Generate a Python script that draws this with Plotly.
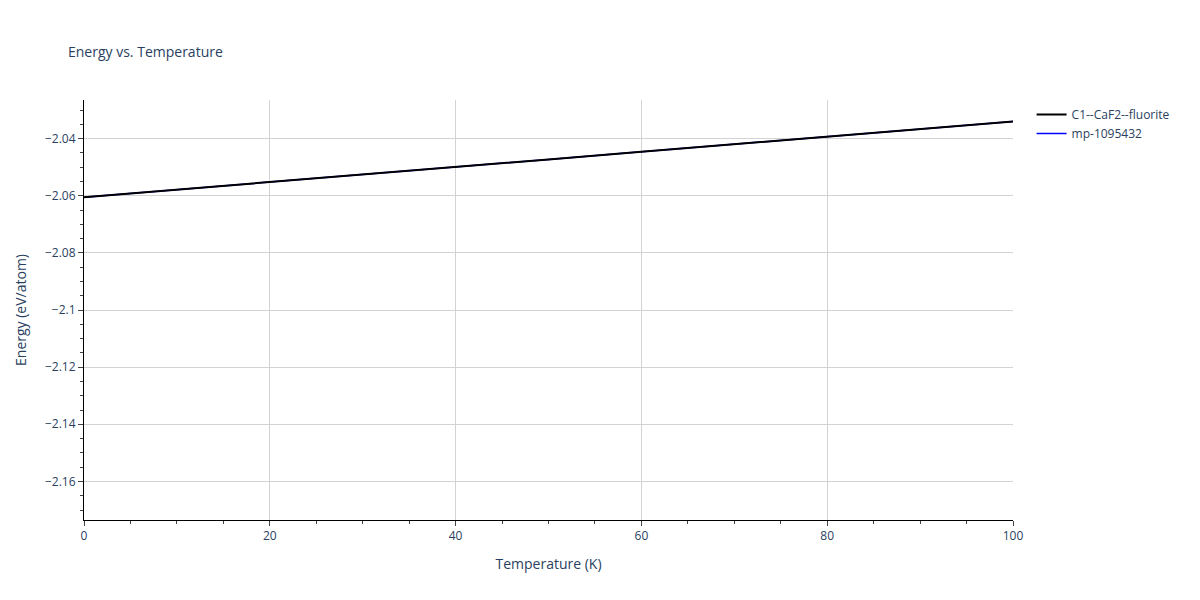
import plotly.graph_objects as go

temps = [0, 10, 20, 30, 40, 50, 60, 70, 80, 90, 100]
energy_fluorite = [-2.0605, -2.0579, -2.0553, -2.0527, -2.0500, -2.0473, -2.0446, -2.0419, -2.0393, -2.0366, -2.0340]
energy_mp = energy_fluorite

fig = go.Figure()
fig.add_trace(go.Scatter(x=temps, y=energy_mp, mode="lines", name="mp-1095432",
                         line=dict(color="blue", width=1.5)))
fig.add_trace(go.Scatter(x=temps, y=energy_fluorite, mode="lines", name="C1--CaF2--fluorite",
                         line=dict(color="black", width=2)))
fig.update_layout(
    width=1200, height=600, template="plotly_white",
    title=dict(text="Energy vs. Temperature", x=0.05, y=0.935, font=dict(size=14)),
    margin=dict(l=73, r=195, t=92, b=88),
    legend=dict(x=1.02, y=1, traceorder="reversed"),
    xaxis=dict(title="Temperature (K)", range=[0, 100], showline=True, linecolor="black",
               ticks="outside", dtick=20, minor=dict(ticks="outside", dtick=5),
               showgrid=True, gridcolor="lightgray", zeroline=False),
    yaxis=dict(title="Energy (eV/atom)", range=[-2.1735, -2.0265], showline=True, linecolor="black",
               ticks="outside", dtick=0.02, minor=dict(ticks="outside", dtick=0.005),
               showgrid=True, gridcolor="lightgray", zeroline=False),
)
fig.write_html("out.html")
